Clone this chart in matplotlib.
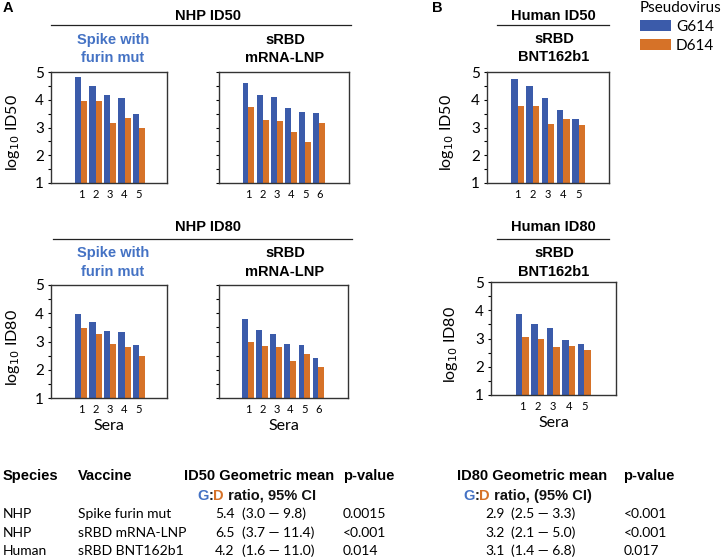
import numpy as np
import matplotlib
matplotlib.use("Agg")
import matplotlib.pyplot as plt

# ---- data ----
sera_spike = [1, 2, 3, 4, 5]
sera_srbd = [1, 2, 3, 4, 5, 6]
sera_human = [1, 2, 3, 4, 5]

spike_id50_g = [4.82, 4.50, 4.16, 4.05, 3.47]
spike_id50_d = [3.94, 3.94, 3.16, 3.35, 2.98]
srbd_id50_g = [4.60, 4.18, 4.09, 3.70, 3.55, 3.53]
srbd_id50_d = [3.75, 3.28, 3.22, 2.85, 2.47, 3.17]
human_id50_g = [4.74, 4.48, 4.05, 3.62, 3.32]
human_id50_d = [3.76, 3.76, 3.14, 3.32, 3.08]

spike_id80_g = [3.97, 3.70, 3.38, 3.32, 2.87]
spike_id80_d = [3.47, 3.26, 2.92, 2.80, 2.48]
srbd_id80_g = [3.80, 3.40, 3.26, 2.91, 2.88, 2.40]
srbd_id80_d = [3.00, 2.83, 2.81, 2.30, 2.54, 2.08]
human_id80_g = [3.88, 3.53, 3.38, 2.95, 2.81]
human_id80_d = [3.04, 2.97, 2.70, 2.75, 2.59]

species = ["NHP", "NHP", "Human"]
vaccines = ["Spike furin mut", "sRBD mRNA-LNP", "sRBD BNT162b1"]
id50_ratio = [5.4, 6.5, 4.2]
id50_lo = [3.0, 3.7, 1.6]
id50_hi = [9.8, 11.4, 11.0]
id50_p = ["0.0015", "<0.001", "0.014"]
id80_ratio = [2.9, 3.2, 3.1]
id80_lo = [2.5, 2.1, 1.4]
id80_hi = [3.3, 5.0, 6.8]
id80_p = ["<0.001", "<0.001", "0.017"]

BLUE = "#3b5baa"
ORANGE = "#d67228"
TITLE_BLUE = "#4472c4"
W, H = 726, 560
BODY = "Lato"
HEAD = "Liberation Sans"

fig = plt.figure(figsize=(W / 100, H / 100), dpi=100)

# overlay in pixel coords for all the free text
ov = fig.add_axes([0, 0, 1, 1], zorder=-1)
ov.set_xlim(0, W)
ov.set_ylim(H, 0)
ov.axis("off")


def px_axes(x0, y0, x1, y1):
    return fig.add_axes([x0 / W, 1 - y1 / H, (x1 - x0) / W, (y1 - y0) / H])


def bar_panel(rect, sera, g, d, xlim, ylabel=None, labels=True, sera_label=False):
    ax = px_axes(*rect)
    x = np.array(sera, dtype=float)
    w = 0.42
    ax.bar(x - w / 2, g, w, color=BLUE, label="G614")
    ax.bar(x + w / 2, d, w, color=ORANGE, label="D614")
    ax.set_ylim(1, 5)
    ax.set_xlim(*xlim)
    ax.set_xticks(sera)
    ax.set_xticklabels([str(s) for s in sera], fontsize=8, family=BODY)
    ax.tick_params(axis="x", length=0, pad=4)
    ax.set_yticks([1, 2, 3, 4, 5])
    ax.set_yticks(np.arange(1.5, 5, 1), minor=True)
    ax.tick_params(axis="y", which="both", length=2, width=0.8, direction="out", pad=3)
    if labels:
        ax.set_yticklabels(["1", "2", "3", "4", "5"], fontsize=11, family=BODY)
    else:
        ax.set_yticklabels([])
    for s in ax.spines.values():
        s.set_color("#333333")
        s.set_linewidth(1.0)
    if ylabel:
        ax.set_ylabel(ylabel, fontsize=11.5, family=BODY)
        ax.yaxis.set_label_coords(-0.25, 0.45)
    if sera_label:
        ax.set_xlabel("Sera", fontsize=11.5, family=BODY, labelpad=3)
    return ax


ax1 = bar_panel((51, 72, 167, 183), sera_spike, spike_id50_g, spike_id50_d,
                (-1.07, 6.93), ylabel=r"log$_{10}$ ID50")
bar_panel((219, 72, 349, 183), sera_srbd, srbd_id50_g, srbd_id50_d,
          (-1.08, 8.1), labels=False)
bar_panel((487, 72, 609, 183), sera_human, human_id50_g, human_id50_d,
          (-1.0, 7.0), ylabel=r"log$_{10}$ ID50")
bar_panel((51, 285, 167, 398), sera_spike, spike_id80_g, spike_id80_d,
          (-1.07, 6.93), ylabel=r"log$_{10}$ ID80", sera_label=True)
bar_panel((219, 285, 348, 398), sera_srbd, srbd_id80_g, srbd_id80_d,
          (-1.08, 8.1), labels=False, sera_label=True)
bar_panel((491, 282, 616, 395), sera_human, human_id80_g, human_id80_d,
          (-1.0, 7.05), ylabel=r"log$_{10}$ ID80", sera_label=True)

# legend
h, l = ax1.get_legend_handles_labels()
leg = fig.legend(h, l, title="Pseudovirus", loc="upper left",
                 bbox_to_anchor=(640 / W, 1 - 1 / H), frameon=False,
                 prop={"family": BODY, "size": 11},
                 title_fontproperties={"family": BODY, "size": 11},
                 handlelength=2.0, handleheight=0.68, handletextpad=0.35,
                 labelspacing=0.32, borderpad=0.0, borderaxespad=0.0)
leg._legend_box.align = "left"

# panel letters
ov.text(3, 8, "A", fontsize=10.5, fontweight="bold", family=HEAD, va="center")
ov.text(432, 8, "B", fontsize=10.5, fontweight="bold", family=HEAD, va="center")

# headers with rules
hb = dict(fontsize=10.5, fontweight="bold", family=HEAD, ha="center", va="center")
ov.text(208, 16, "NHP ID50", **hb)
ov.plot([51, 351], [25, 25], color="#222222", lw=0.9)
ov.text(553, 16, "Human ID50", **hb)
ov.plot([497, 609], [25, 25], color="#222222", lw=0.9)
ov.text(208, 227, "NHP ID80", **hb)
ov.plot([53, 352], [239, 239], color="#222222", lw=0.9)
ov.text(553, 227, "Human ID80", **hb)
ov.plot([497, 609], [239, 239], color="#222222", lw=0.9)

for y1, y2 in [(40, 58), (253, 272)]:
    ov.text(113, y1, "Spike with", color=TITLE_BLUE, **hb)
    ov.text(113, y2, "furin mut", color=TITLE_BLUE, **hb)
    ov.text(285, y1, "sRBD", **hb)
    ov.text(285, y2, "mRNA-LNP", **hb)
for y1, y2 in [(39, 57), (253, 272)]:
    ov.text(554, y1, "sRBD", **hb)
    ov.text(554, y2, "BNT162b1", **hb)

# table
TB = 10.5
tb = dict(fontsize=TB, fontweight="bold", family=HEAD, va="center", ha="left")
tn = dict(fontsize=10, family=BODY, va="center", ha="left")
ov.text(3, 476, "Species", **tb)
ov.text(78, 476, "Vaccine", **tb)
ov.text(184, 476, "ID50 Geometric mean", **tb)
ov.text(343, 476, "p-value", **tb)
ov.text(457, 476, "ID80 Geometric mean", **tb)
ov.text(623, 476, "p-value", **tb)


def gd_label(x, y, rest):
    t = ov.text(x, y, "G", color=TITLE_BLUE, **tb)
    t = ov.annotate(":", xy=(1, 0), xycoords=t, va="bottom", ha="left",
                    fontsize=TB, fontweight="bold", family=HEAD, color="#222222")
    t = ov.annotate("D", xy=(1, 0), xycoords=t, va="bottom", ha="left",
                    fontsize=TB, fontweight="bold", family=HEAD, color=ORANGE)
    ov.annotate(rest, xy=(1, 0), xycoords=t, va="bottom", ha="left",
                fontsize=TB, fontweight="bold", family=HEAD, color="#111111")


gd_label(197, 496, " ratio, 95% CI")
gd_label(463, 496, " ratio, (95% CI)")

row_y = [514, 533, 551]
for i, y in enumerate(row_y):
    ov.text(3, y, species[i], **tn)
    ov.text(78, y, vaccines[i], **tn)
    ov.text(215, y, f"{id50_ratio[i]:.1f}", **tn)
    ov.text(242, y, f"({id50_lo[i]:.1f} \u2014 {id50_hi[i]:.1f})", **tn)
    ov.text(343, y, id50_p[i], **tn)
    ov.text(485, y, f"{id80_ratio[i]:.1f}", **tn)
    ov.text(511, y, f"({id80_lo[i]:.1f} \u2014 {id80_hi[i]:.1f})", **tn)
    ov.text(624, y, id80_p[i], **tn)

fig.savefig("out.png", dpi=100)
